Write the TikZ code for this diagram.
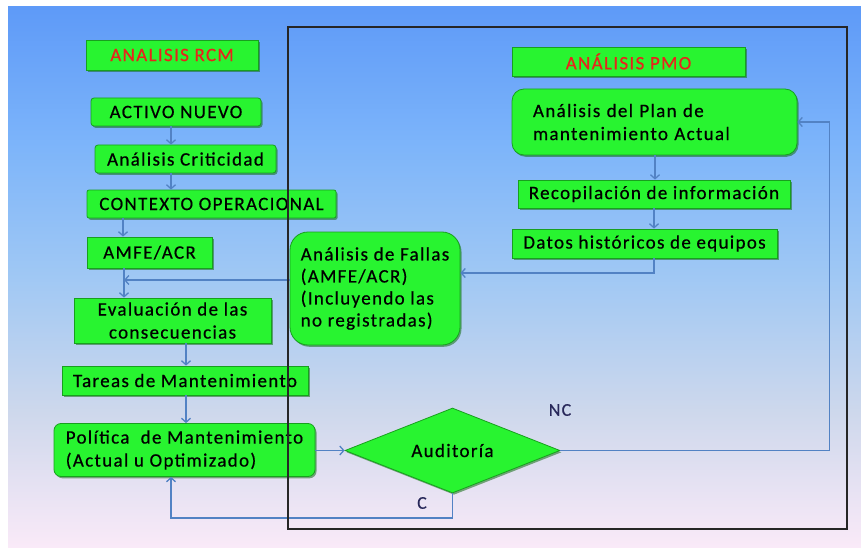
\documentclass[tikz,border=0pt]{standalone}
\usepackage{fontspec}
\setmainfont{Carlito}[LetterSpace=7,FakeBold=0.5]
\usetikzlibrary{arrows.meta,shapes.geometric,shadows}

\definecolor{boxgreen}{RGB}{40,244,48}
\definecolor{boxedge}{RGB}{24,160,30}
\definecolor{shadegreen}{RGB}{20,110,20}
\definecolor{headred}{RGB}{232,36,28}
\definecolor{linkblue}{RGB}{82,130,196}
\definecolor{labelnavy}{RGB}{40,40,90}
\definecolor{bgtop}{RGB}{94,154,248}
\definecolor{bgupper}{RGB}{124,180,250}
\definecolor{bgmid}{RGB}{160,200,244}
\definecolor{bglower}{RGB}{206,216,236}
\definecolor{bgbot}{RGB}{250,234,248}

% vertical fade of the backdrop; TikZ maps 25bp..75bp onto the path
\pgfdeclareverticalshading{bgfade}{100bp}{color(0bp)=(bgbot); color(25bp)=(bgbot);
  color(37.5bp)=(bglower); color(50bp)=(bgmid); color(62.5bp)=(bgupper);
  color(75bp)=(bgtop); color(100bp)=(bgtop)}

\tikzset{
  gbox/.style={draw=boxedge, line width=0.8pt, fill=boxgreen, inner sep=0pt,
    font=\fontsize{19}{23}\selectfont,
    drop shadow={shadow xshift=1.5pt, shadow yshift=-1.8pt, fill=shadegreen, opacity=0.55}},
  headbox/.style={gbox, text=headred},
  link/.style={draw=linkblue, line width=1.3pt, -{Straight Barb[length=4pt,width=9pt]}},
  framebox/.style={draw=black!85, line width=1.6pt},
  tag/.style={text=labelnavy, font=\fontsize{18}{20}\selectfont},
}

\begin{document}
\begin{tikzpicture}[x=1pt,y=-1pt]
\useasboundingbox (0,0) rectangle (861,548);
\fill[white] (0,0) rectangle (861,548);
\shade[shading=bgfade] (8,7) rectangle (861,548);

% RCM column
\node[headbox, minimum width=172pt, minimum height=30pt] (rcm) at (172,55) {ANALISIS RCM};
\node[gbox, rounded corners=3pt, minimum width=170pt, minimum height=28pt] (activo) at (176,112) {ACTIVO NUEVO};
\node[gbox, rounded corners=3pt, minimum width=181pt, minimum height=28pt] (crit) at (185.5,159) {Análisis Criticidad};
\node[gbox, rounded corners=2pt, minimum width=249pt, minimum height=28pt] (ctx) at (211.5,204) {CONTEXTO OPERACIONAL};
\node[gbox, minimum width=125pt, minimum height=31pt] (amfe) at (149.5,252.5) {AMFE/ACR};
\node[gbox, align=center, minimum width=197pt, minimum height=45pt] (eval) at (172.5,320.5) {Evaluación de las\\consecuencias};
\node[gbox, minimum width=246pt, minimum height=29pt] (tareas) at (185,380.5) {Tareas de Mantenimiento};
\node[gbox, rounded corners=7pt, align=left,
      minimum width=261pt, minimum height=53pt] (politica) at (184.5,450)
      {Política\ \ de Mantenimiento\\(Actual u Optimizado)};

% PMO column
\node[headbox, minimum width=233pt, minimum height=29pt] (pmo) at (628.5,61.5) {ANÁLISIS PMO};
\node[gbox, rounded corners=12pt, align=left, text width=243pt, inner xsep=21pt,
      minimum width=285pt, minimum height=66pt] (plan) at (654.5,122)
      {Análisis del Plan de\\mantenimiento Actual};
\node[gbox, minimum width=272pt, minimum height=28pt] (recop) at (654,194) {Recopilación de información};
\node[gbox, minimum width=265pt, minimum height=29pt] (datos) at (644.5,243.5) {Datos históricos de equipos};
\node[gbox, rounded corners=18pt, align=left, font=\fontsize{19}{22}\selectfont,
      minimum width=170pt, minimum height=113pt] (fallas) at (375,288.5)
      {Análisis de Fallas\\(AMFE/ACR)\\(Incluyendo las\\no registradas)};
\node[gbox, diamond, aspect=2.5, minimum width=215pt, minimum height=85pt] (aud) at (452.5,450.5) {Auditoría};

\node[tag] (nc) at (560,410) {NC};
\node[tag] (c) at (422,503) {C};

% RCM flow
\draw[link] (activo.south -| 171,0) -- (crit.north -| 171,0);
\draw[link] (crit.south -| 171,0) -- (ctx.north -| 171,0);
\draw[link] (ctx.south -| 123,0) -- (amfe.north -| 123,0);
\draw[link] (amfe.south -| 124,0) -- (eval.north -| 124,0);
\draw[link] (fallas.west |- 0,280) -- (124,280);
\draw[link] (eval.south -| 186,0) -- (tareas.north -| 186,0);
\draw[link] (tareas.south -| 186,0) -- (politica.north -| 186,0);
\draw[link] (politica.east |- aud.west) -- (aud.west);

% audit outcomes
\draw[link] (aud.south) -- (aud.south |- 0,518) -| (politica.south -| 171,0);
\draw[link] (aud.east) -| ([xshift=32pt]plan.east) -- (plan.east);

% PMO flow
\draw[link] (plan.south -| 655,0) -- (recop.north -| 655,0);
\draw[link] (recop.south -| 654,0) -- (datos.north -| 654,0);
\draw[link] (datos.south -| 654,0) |- (fallas.east |- 0,273);

% PMO frame, drawn over everything
\draw[framebox] (288,27) rectangle (847,529);
\end{tikzpicture}
\end{document}
